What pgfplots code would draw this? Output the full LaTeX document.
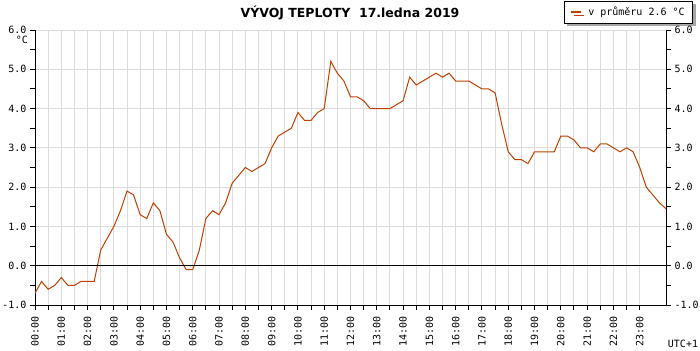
\documentclass[border=0pt]{standalone}
\usepackage{fontspec}
\setmainfont{DejaVu Sans}
\setmonofont{DejaVu Sans Mono}
\usepackage{pgfplots}
\usepackage{pgfplotstable}
\pgfplotsset{compat=1.18}
\usetikzlibrary{shadows}
\definecolor{tline}{RGB}{192,64,0}
\definecolor{gridc}{RGB}{220,220,220}

\pgfplotstableread{
t v
0 -0.7
0.25 -0.4
0.5 -0.6
0.75 -0.5
1.0 -0.3
1.25 -0.5
1.5 -0.5
1.75 -0.4
2.0 -0.4
2.25 -0.4
2.5 0.4
2.75 0.7
3.0 1.0
3.25 1.4
3.5 1.9
3.75 1.8
4.0 1.3
4.25 1.2
4.5 1.6
4.75 1.4
5.0 0.8
5.25 0.6
5.5 0.2
5.75 -0.1
6.0 -0.1
6.25 0.4
6.5 1.2
6.75 1.4
7.0 1.3
7.25 1.6
7.5 2.1
7.75 2.3
8.0 2.5
8.25 2.4
8.5 2.5
8.75 2.6
9.0 3.0
9.25 3.3
9.5 3.4
9.75 3.5
10.0 3.9
10.25 3.7
10.5 3.7
10.75 3.9
11.0 4.0
11.25 5.2
11.5 4.9
11.75 4.7
12.0 4.3
12.25 4.3
12.5 4.2
12.75 4.0
13.0 4.0
13.25 4.0
13.5 4.0
13.75 4.1
14.0 4.2
14.25 4.8
14.5 4.6
14.75 4.7
15.0 4.8
15.25 4.9
15.5 4.8
15.75 4.9
16.0 4.7
16.25 4.7
16.5 4.7
16.75 4.6
17.0 4.5
17.25 4.5
17.5 4.4
17.75 3.6
18.0 2.9
18.25 2.7
18.5 2.7
18.75 2.6
19.0 2.9
19.25 2.9
19.5 2.9
19.75 2.9
20.0 3.3
20.25 3.3
20.5 3.2
20.75 3.0
21.0 3.0
21.25 2.9
21.5 3.1
21.75 3.1
22.0 3.0
22.25 2.9
22.5 3.0
22.75 2.9
23.0 2.5
23.25 2.0
23.5 1.8
23.75 1.6
24.0 1.45
}\temps

\pgfplotsset{
  commonax/.style={
    at={(35bp,45bp)}, anchor=south west, scale only axis,
    width=631bp, height=275bp,
    xmin=0, xmax=24, ymin=-1, ymax=6,
    axis line style={-, black, line width=1bp},
    ytick={-1,0,1,2,3,4,5,6},
    yticklabels={-1.0,0.0,1.0,2.0,3.0,4.0,5.0,6.0},
    minor y tick num=1,
    tick align=outside,
    major tick length=5bp, minor tick length=5bp,
    tick style={black, line width=1bp},
    ticklabel style={font=\ttfamily\fontsize{10bp}{12bp}\selectfont},
  }
}

\begin{document}
\begin{tikzpicture}[x=1bp,y=1bp]
\path[use as bounding box, fill=white] (0,0) rectangle (700,350);
\begin{axis}[commonax,
  axis x line*=bottom, axis y line*=left,
  xtick={0,...,23}, minor x tick num=1,
  xticklabels={00:00,01:00,02:00,03:00,04:00,05:00,06:00,07:00,08:00,09:00,10:00,11:00,12:00,13:00,14:00,15:00,16:00,17:00,18:00,19:00,20:00,21:00,22:00,23:00},
  xticklabel style={rotate=90, anchor=east},
  xticklabel shift=3bp,
  xmajorgrids, xminorgrids, ymajorgrids,
  grid style={gridc, line width=1bp},
  minor grid style={gridc, line width=1bp},
  legend style={at={(1.0428,1.1055)}, anchor=north east,
    draw=black, line width=0.8bp, fill=white,
    drop shadow={shadow xshift=3bp, shadow yshift=-3bp, fill=gray!70, opacity=1},
    font=\ttfamily\fontsize{10bp}{12bp}\selectfont,
    inner xsep=6bp, inner ysep=4bp},
  legend image code/.code={\draw[#1, line width=2bp] (0bp,0bp) -- (10bp,0bp);},
]
\addplot[tline, line width=1bp] table[x=t, y=v] {\temps};
\addlegendentry{\hspace{4bp}v průměru 2.6 °C}
\addplot[black, line width=1bp, forget plot] coordinates {(0,0) (24,0)};
\end{axis}
\begin{axis}[commonax,
  axis x line=none, axis y line*=right,
]
\end{axis}
\node[font=\bfseries\fontsize{12.5bp}{14bp}\selectfont] at (350,337.5) {VÝVOJ TEPLOTY\ \ 17.ledna 2019};
\node[font=\ttfamily\fontsize{10bp}{12bp}\selectfont] at (22,310) {°C};
\node[font=\ttfamily\fontsize{10bp}{12bp}\selectfont] at (683,6) {UTC+1};
\end{tikzpicture}
\end{document}
